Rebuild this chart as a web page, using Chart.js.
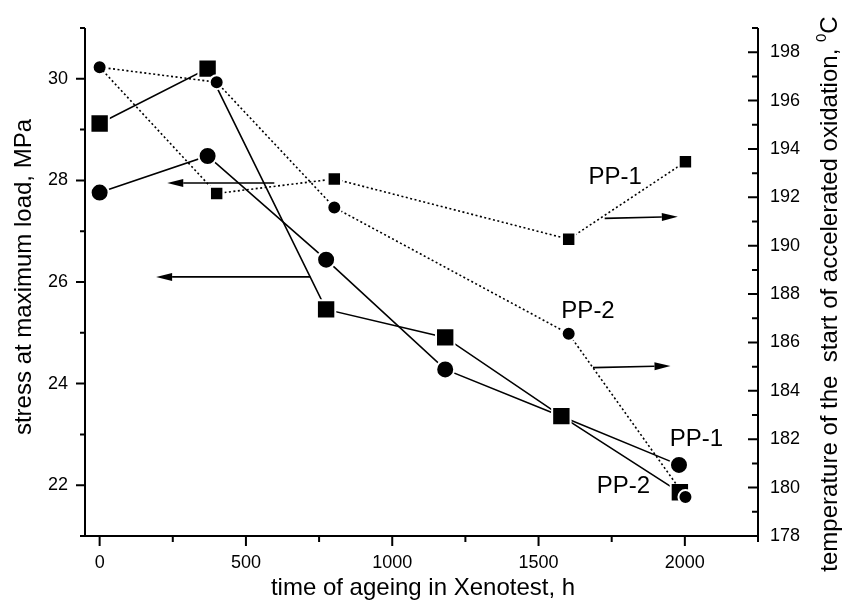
<!DOCTYPE html>
<html>
<head>
<meta charset="utf-8">
<script src="https://cdn.jsdelivr.net/npm/chart.js@4.4.0/dist/chart.umd.min.js"></script>
<style>
body { margin: 0; background: #fff; }
#wrap { width: 842px; height: 612px; }
</style>
</head>
<body>
<div id="wrap"><canvas id="chart"></canvas></div>
<script>
// stress at maximum load (left axis)
var hoursSq = [0, 369, 774, 1181, 1578, 1983];
var stressSq = [29.12, 30.2, 25.46, 24.91, 23.36, 21.86];
var hoursCi = [0, 369, 774, 1181, 1575, 1980];
var stressCi = [27.76, 28.48, 26.44, 24.28, 23.36, 22.4];

// temperature of the start of accelerated oxidation (right axis)
var hoursT = [0, 400, 802, 1603, 2002];
var tempPP1 = [197.38, 192.16, 192.76, 190.27, 193.47];
var tempPP2 = [197.38, 196.76, 191.58, 186.36, 179.61];

var xTicks = [0, 500, 1000, 1500, 2000];
var xMinor = [250, 750, 1250, 1750, 2250];
var leftTicks = [22, 24, 26, 28, 30];
var leftMinor = [21, 23, 25, 27, 29, 31];
var rightTicks = [178, 180, 182, 184, 186, 188, 190, 192, 194, 196, 198];
var rightMinor = [179, 181, 183, 185, 187, 189, 191, 193, 195, 197, 199];

// arrows: [t1, v1, t2, v2, axis]
var arrows = [
  [597, 27.95, 231, 27.95, 'yL'],
  [720, 26.1, 193, 26.1, 'yL'],
  [1726, 191.13, 1976, 191.2, 'yR'],
  [1686, 184.96, 1951, 185.03, 'yR']
];
var labelText = ['PP-1', 'PP-2', 'PP-1', 'PP-2'];
var labelHours = [1671, 1578, 1948, 1699];
var labelStress = [27.93, 25.3, 22.78, 21.85];

function pts(xs, ys) {
  return xs.map(function (x, i) { return { x: x, y: ys[i] }; });
}

var FONT = '"Liberation Sans", Arial, sans-serif';

function setTicks(arr) {
  return function (scale) {
    scale.ticks = arr.map(function (v) { return { value: v }; });
  };
}

var extras = {
  id: 'extras',
  afterDatasetsDraw: function (chart) {
    var ctx = chart.ctx;
    var a = chart.chartArea;
    var sx = chart.scales.x, yl = chart.scales.yL, yr = chart.scales.yR;
    ctx.save();
    ctx.strokeStyle = '#000';
    ctx.fillStyle = '#000';
    ctx.lineWidth = 2;

    // axis lines
    ctx.beginPath();
    ctx.moveTo(a.left, a.top); ctx.lineTo(a.left, a.bottom);
    ctx.lineTo(a.right, a.bottom); ctx.lineTo(a.right, a.top);
    ctx.stroke();

    // tick marks
    ctx.beginPath();
    xTicks.forEach(function (v) { var p = sx.getPixelForValue(v); ctx.moveTo(p, a.bottom); ctx.lineTo(p, a.bottom + 10); });
    xMinor.forEach(function (v) { var p = sx.getPixelForValue(v); ctx.moveTo(p, a.bottom); ctx.lineTo(p, a.bottom + 6); });
    leftTicks.forEach(function (v) { var p = yl.getPixelForValue(v); ctx.moveTo(a.left, p); ctx.lineTo(a.left - 9, p); });
    leftMinor.forEach(function (v) { var p = yl.getPixelForValue(v); ctx.moveTo(a.left, p); ctx.lineTo(a.left - 5, p); });
    rightTicks.forEach(function (v) { var p = yr.getPixelForValue(v); ctx.moveTo(a.right, p); ctx.lineTo(a.right - 10, p); });
    rightMinor.forEach(function (v) { var p = yr.getPixelForValue(v); ctx.moveTo(a.right, p); ctx.lineTo(a.right - 6, p); });
    ctx.stroke();

    // arrows
    ctx.lineWidth = 1.6;
    arrows.forEach(function (ar) {
      var ys = chart.scales[ar[4]];
      var x1 = sx.getPixelForValue(ar[0]), y1 = ys.getPixelForValue(ar[1]);
      var x2 = sx.getPixelForValue(ar[2]), y2 = ys.getPixelForValue(ar[3]);
      var ang = Math.atan2(y2 - y1, x2 - x1);
      var hl = 16, hw = 4;
      var bx = x2 - hl * Math.cos(ang), by = y2 - hl * Math.sin(ang);
      ctx.beginPath();
      ctx.moveTo(x1, y1); ctx.lineTo(bx, by);
      ctx.stroke();
      ctx.beginPath();
      ctx.moveTo(x2, y2);
      ctx.lineTo(bx + hw * Math.sin(ang), by - hw * Math.cos(ang));
      ctx.lineTo(bx - hw * Math.sin(ang), by + hw * Math.cos(ang));
      ctx.closePath();
      ctx.fill();
    });

    // PP labels
    ctx.font = '24px ' + FONT;
    ctx.textAlign = 'left';
    ctx.textBaseline = 'alphabetic';
    labelText.forEach(function (t, i) {
      ctx.fillText(t, sx.getPixelForValue(labelHours[i]), yl.getPixelForValue(labelStress[i]));
    });

    // axis titles
    ctx.textAlign = 'center';
    ctx.fillText('time of ageing in Xenotest, h', 423, 595);

    ctx.save();
    ctx.translate(31, 277);
    ctx.rotate(-Math.PI / 2);
    ctx.fillText('stress at maximum load, MPa', 0, 0);
    ctx.restore();

    ctx.save();
    ctx.translate(837, 294);
    ctx.rotate(-Math.PI / 2);
    var main = 'temperature of the  start of accelerated oxidation, ';
    ctx.font = '24px ' + FONT;
    var w1 = ctx.measureText(main).width;
    ctx.font = '15px ' + FONT;
    var w2 = ctx.measureText('0').width;
    ctx.font = '24px ' + FONT;
    var w3 = ctx.measureText('C').width;
    var start = -(w1 + w2 + w3) / 2;
    ctx.textAlign = 'left';
    ctx.fillText(main, start, 0);
    ctx.font = '15px ' + FONT;
    ctx.fillText('0', start + w1, -11);
    ctx.font = '24px ' + FONT;
    ctx.fillText('C', start + w1 + w2, 0);
    ctx.restore();

    ctx.restore();
  }
};

var solid = { borderColor: '#000', backgroundColor: '#000', borderWidth: 1.6,
  pointBorderColor: '#fff', pointBorderWidth: 2, fill: false, tension: 0 };

new Chart('chart', {
  type: 'line',
  data: {
    datasets: [
      Object.assign({}, solid, { data: pts(hoursT, tempPP1), yAxisID: 'yR', borderDash: [2, 2.5],
        pointStyle: 'rect', pointRadius: [0, 9.5, 9.5, 9.5, 9.5] }),
      Object.assign({}, solid, { data: pts(hoursT, tempPP2), yAxisID: 'yR', borderDash: [2, 2.5],
        pointStyle: 'circle', pointRadius: 7 }),
      Object.assign({}, solid, { data: pts(hoursSq, stressSq), yAxisID: 'yL',
        pointStyle: 'rect', pointRadius: 13 }),
      Object.assign({}, solid, { data: pts(hoursCi, stressCi), yAxisID: 'yL',
        pointStyle: 'circle', pointRadius: 9 })
    ]
  },
  options: {
    responsive: true,
    maintainAspectRatio: false,
    animation: false,
    layout: { padding: { top: 28, left: 0, right: 0, bottom: 0 } },
    plugins: { legend: { display: false }, tooltip: { enabled: false } },
    scales: {
      x: {
        type: 'linear', position: 'bottom', min: -50, max: 2250,
        afterBuildTicks: setTicks(xTicks),
        afterFit: function (s) { s.height = 76; },
        grid: { display: false, drawTicks: false }, border: { display: false },
        ticks: { color: '#000', padding: 16, font: { family: FONT, size: 18 },
          callback: function (v) { return String(v); } }
      },
      yL: {
        type: 'linear', position: 'left', min: 21, max: 31,
        afterBuildTicks: setTicks(leftTicks),
        afterFit: function (s) { s.width = 85; },
        grid: { display: false, drawTicks: false }, border: { display: false },
        ticks: { color: '#000', padding: 17, font: { family: FONT, size: 18 } }
      },
      yR: {
        type: 'linear', position: 'right', min: 178, max: 199,
        afterBuildTicks: setTicks(rightTicks),
        afterFit: function (s) { s.width = 84; },
        grid: { display: false, drawTicks: false }, border: { display: false },
        ticks: { color: '#000', padding: 12, font: { family: FONT, size: 18 } }
      }
    }
  },
  plugins: [extras]
});
</script>
</body>
</html>
